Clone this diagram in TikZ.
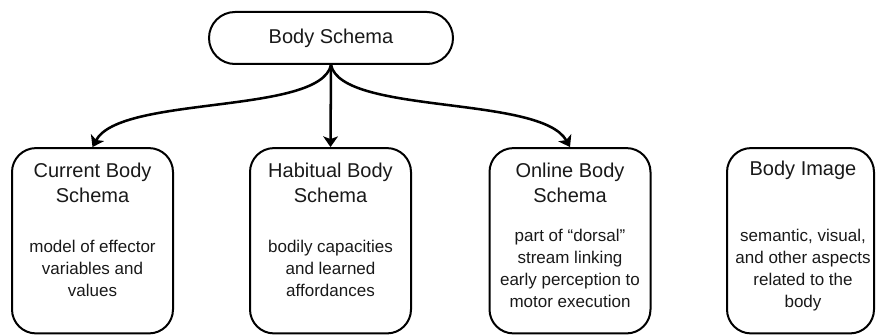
\documentclass[tikz,border=0pt]{standalone}
\usepackage{fontspec}
\setmainfont{Liberation Sans}
\usetikzlibrary{arrows.meta}
\begin{document}
\begin{tikzpicture}[x=0.75pt,y=-0.75pt,
  box/.style={draw, line width=1.5pt, rounded corners=18pt, minimum height=139pt, inner sep=0pt},
  ttl/.style={align=center, font=\fontsize{15}{18.75}\selectfont, inner sep=0pt, text=black!90},
  txt/.style={align=center, font=\fontsize{12.75}{16.5}\selectfont, inner sep=0pt, text=black!90},
  arr/.style={line width=1.9pt, -{Stealth[length=8pt,width=11pt,inset=2pt]}}]
\useasboundingbox (0,0) rectangle (877,335);
\node[draw, line width=1.5pt, rounded corners=19.5pt, minimum width=183pt, minimum height=39pt, inner sep=0pt,
  font=\fontsize{15}{18}\selectfont, text=black!90] (top) at (331,38) {Body Schema};
\node[box, minimum width=120.75pt] (b1) at (92.5,240.75) {};
\node[box, minimum width=120.75pt] (b2) at (330.5,240.75) {};
\node[box, minimum width=120.75pt] (b3) at (570,240.75) {};
\node[box, minimum width=110.25pt] (b4) at (800.5,240.75) {};
\node[ttl] (t1) at (92.5,183) {Current Body\\Schema};
\node[ttl] (t2) at (330.5,183) {Habitual Body\\Schema};
\node[ttl] (t3) at (570,183) {Online Body\\Schema};
\node[ttl] (t4) at (803,170.8) {Body Image};
\node[txt] (d1) at (92.5,268.3) {model of effector\\variables and\\values};
\node[txt] (d2) at (330.5,268.3) {bodily capacities\\and learned\\affordances};
\node[txt] (d3) at (570,268.8) {part of “dorsal”\\stream linking\\early perception to\\motor execution};
\node[txt] (d4) at (803,270.6) {semantic, visual,\\and other aspects\\related to the\\body};
\draw[arr] (top.south) .. controls (320,115) and (120,95) .. (b1.north);
\draw[arr] (top.south) -- (b2.north);
\draw[arr] (top.south) .. controls (342,115) and (541,95) .. (b3.north);
\end{tikzpicture}
\end{document}
